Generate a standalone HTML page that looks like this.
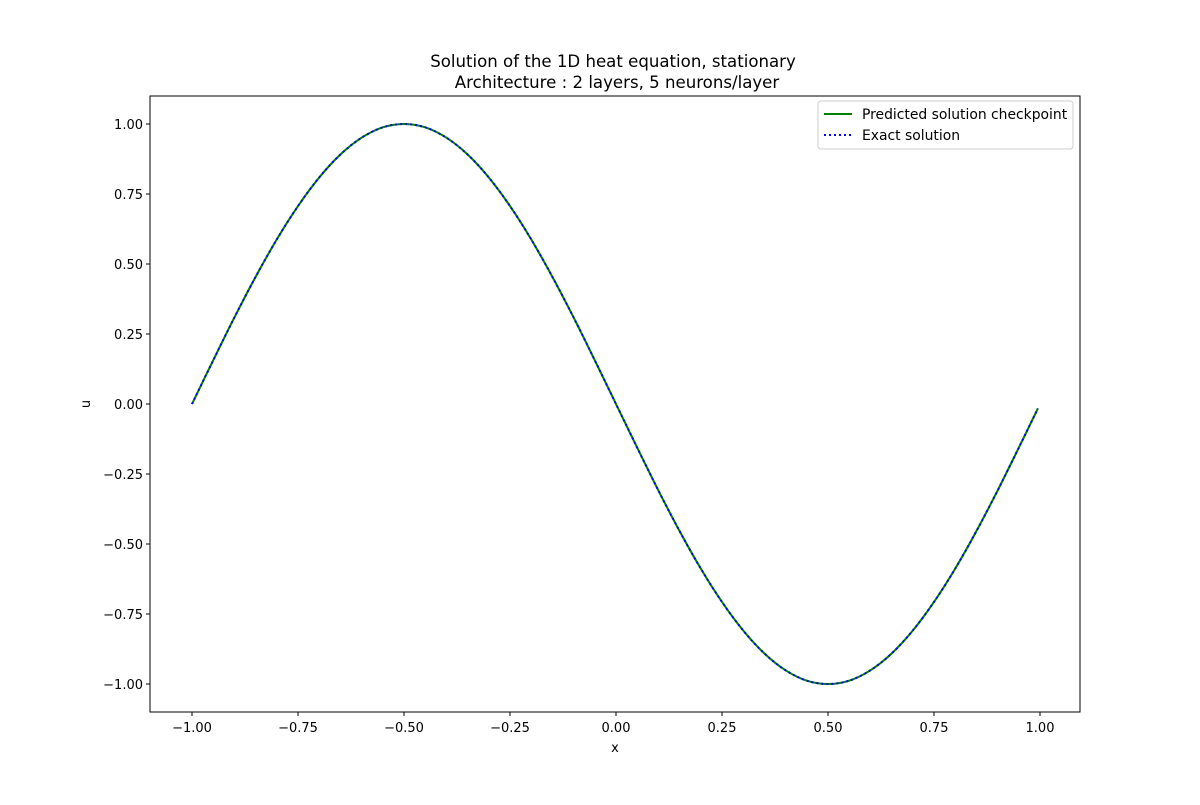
<!DOCTYPE html>
<html><head><meta charset="utf-8"><style>
body{margin:0;background:#fff;}
svg{font-family:"DejaVu Sans","Liberation Sans",sans-serif;}
</style></head><body>
<svg id="chart" width="1200" height="800">
<rect width="1200" height="800" fill="#fff"/>
<text x="613" y="67" text-anchor="middle" font-size="16.6">Solution of the 1D heat equation, stationary</text>
<text x="617" y="88" text-anchor="middle" font-size="16.6">Architecture : 2 layers, 5 neurons/layer</text>
<g id="axes"></g>
<rect x="150" y="96" width="930" height="616" fill="none" stroke="#000" stroke-width="1"/>
<text x="615" y="752" text-anchor="middle" font-size="13">x</text>
<text transform="translate(90,404) rotate(-90)" text-anchor="middle" font-size="13">u</text>
<g>
<rect x="818" y="101" width="255" height="48" rx="3" fill="#fff" stroke="#ccc"/>
<line x1="824" y1="114" x2="852" y2="114" stroke="green" stroke-width="2"/>
<text x="862" y="119" font-size="13.9">Predicted solution checkpoint</text>
<line x1="824" y1="135" x2="852" y2="135" stroke="blue" stroke-width="2" stroke-dasharray="2,3"/>
<text x="862" y="140" font-size="13.9">Exact solution</text>
</g>
</svg>
<script>
const xValues = [-1,-0.95,-0.9,-0.85,-0.8,-0.75,-0.7,-0.65,-0.6,-0.55,-0.5,-0.45,-0.4,-0.35,-0.3,-0.25,-0.2,-0.15,-0.1,-0.05,0,0.05,0.1,0.15,0.2,0.25,0.3,0.35,0.4,0.45,0.5,0.55,0.6,0.65,0.7,0.75,0.8,0.85,0.9,0.95,0.995];
const predictedU = [0,0.156,0.309,0.454,0.588,0.707,0.809,0.891,0.951,0.988,1,0.988,0.951,0.891,0.809,0.707,0.588,0.454,0.309,0.156,0,-0.156,-0.309,-0.454,-0.588,-0.707,-0.809,-0.891,-0.951,-0.988,-1,-0.988,-0.951,-0.891,-0.809,-0.707,-0.588,-0.454,-0.309,-0.156,-0.016];
const exactU = [0,0.156,0.309,0.454,0.588,0.707,0.809,0.891,0.951,0.988,1,0.988,0.951,0.891,0.809,0.707,0.588,0.454,0.309,0.156,0,-0.156,-0.309,-0.454,-0.588,-0.707,-0.809,-0.891,-0.951,-0.988,-1,-0.988,-0.951,-0.891,-0.809,-0.707,-0.588,-0.454,-0.309,-0.156,-0.016];
const xTicks = [-1,-0.75,-0.5,-0.25,0,0.25,0.5,0.75,1];
const xTickLabels = ["\u22121.00","\u22120.75","\u22120.50","\u22120.25","0.00","0.25","0.50","0.75","1.00"];
const yTicks = [1,0.75,0.5,0.25,0,-0.25,-0.5,-0.75,-1];
const yTickLabels = ["1.00","0.75","0.50","0.25","0.00","\u22120.25","\u22120.50","\u22120.75","\u22121.00"];
const sx = v => 616 + v*424;
const sy = v => 404 - v*280;
const NS="http://www.w3.org/2000/svg";
const g=document.getElementById('axes');
function mk(t,a){const e=document.createElementNS(NS,t);for(const k in a)e.setAttribute(k,a[k]);return e;}
xTicks.forEach((v,i)=>{
  const l=mk('line',{x1:sx(v),x2:sx(v),y1:712,y2:716,stroke:'#000'});
  
  
  g.appendChild(l);
  const t=mk('text',{x:sx(v),y:732,'text-anchor':'middle','font-size':13});
  
  
  t.textContent=xTickLabels[i];g.appendChild(t);
});
yTicks.forEach((v,i)=>{
  const l=mk('line',{x1:146,x2:150,y1:sy(v),y2:sy(v),stroke:'#000'});
  
  
  g.appendChild(l);
  const t=mk('text',{x:143,y:sy(v)+5,'text-anchor':'end','font-size':13});
  
  
  t.textContent=yTickLabels[i];g.appendChild(t);
});
function pathD(ys){
  const P=xValues.map((x,i)=>[sx(x),sy(ys[i])]);
  let d='M'+P[0][0].toFixed(2)+','+P[0][1].toFixed(2);
  for(let i=0;i<P.length-1;i++){
    const p0=P[Math.max(0,i-1)],p1=P[i],p2=P[i+1],p3=P[Math.min(P.length-1,i+2)];
    const c1=[p1[0]+(p2[0]-p0[0])/6,p1[1]+(p2[1]-p0[1])/6];
    const c2=[p2[0]-(p3[0]-p1[0])/6,p2[1]-(p3[1]-p1[1])/6];
    d+=' C'+c1[0].toFixed(2)+','+c1[1].toFixed(2)+' '+c2[0].toFixed(2)+','+c2[1].toFixed(2)+' '+p2[0].toFixed(2)+','+p2[1].toFixed(2);
  }
  return d;
}
const p1=mk('path',{d:pathD(predictedU),fill:'none',stroke:'green','stroke-width':2,'stroke-linejoin':'round'});


g.appendChild(p1);
const p2=mk('path',{d:pathD(exactU),fill:'none',stroke:'blue','stroke-width':2,'stroke-dasharray':'2,3'});


g.appendChild(p2);
</script>
</body></html>
